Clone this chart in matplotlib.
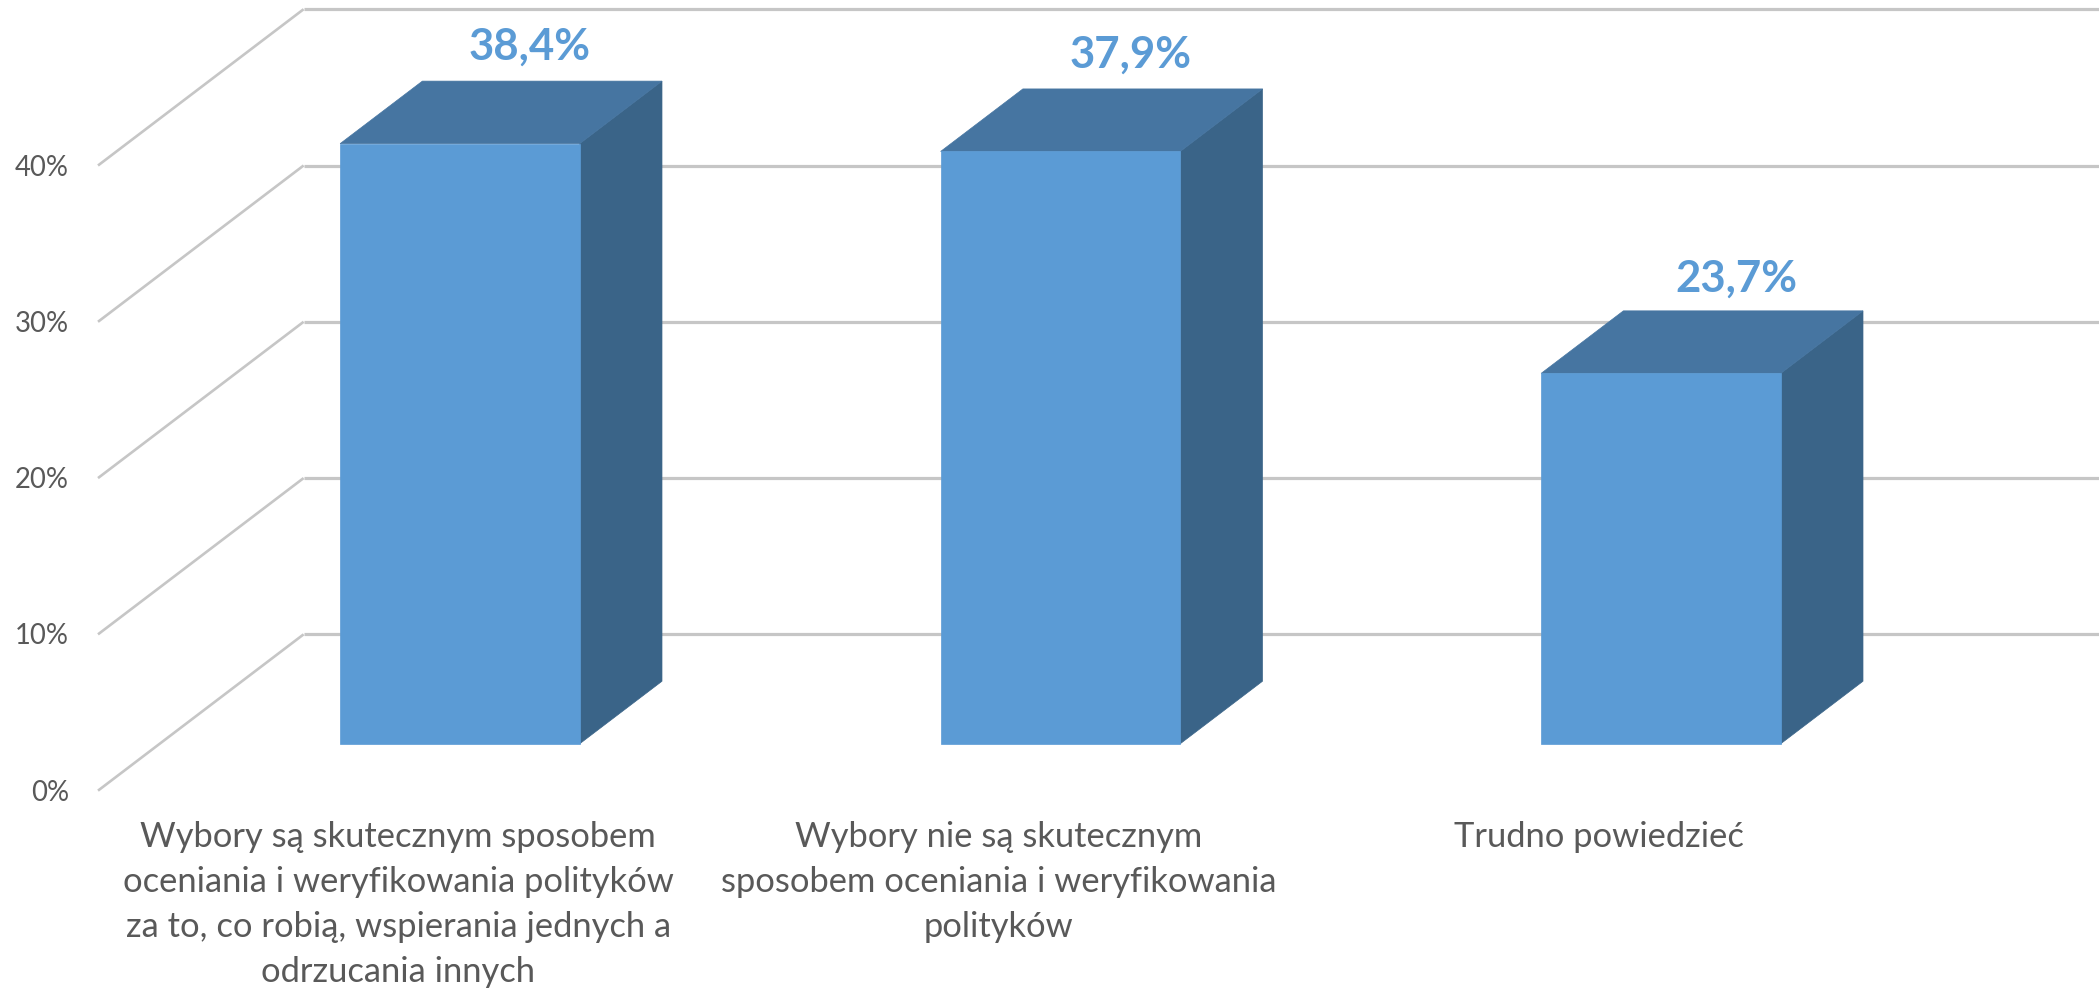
import numpy as np
import matplotlib.pyplot as plt
from matplotlib.patches import Polygon

plt.rcParams['font.family'] = ['Lato', 'DejaVu Sans']

categories = ['Wybory są skutecznym sposobem\noceniania i weryfikowania polityków\nza to, co robią, wspierania jednych a\nodrzucania innych',
              'Wybory nie są skutecznym\nsposobem oceniania i weryfikowania\npolityków',
              'Trudno powiedzieć']
values = [38.4, 37.9, 23.7]
value_labels = ['38,4%', '37,9%', '23,7%']
y_ticks = [0, 10, 20, 30, 40]
y_tick_labels = ['0%', '10%', '20%', '30%', '40%']

colors = {'front': '#5B9BD5', 'top': '#4675A1', 'side': '#3A6488', 'grid': '#C6C6C6', 'text': '#595959'}

# oblique "3d" look: depth 0 is the front plane, depth 1 the back wall
depth_dx = 0.3424   # category units
depth_dy = 10.0     # percent units
bar_width = 0.399
bar_d0, bar_d1 = 0.3, 0.7


def proj(x, y, d):
    return (x + d * depth_dx, y + d * depth_dy)


fig = plt.figure(figsize=(20.99, 9.91), dpi=100)
ax = fig.add_axes([0, 0, 1, 1])
ax.set_xlim(-0.6632, 2.8322)
ax.set_ylim(-12.82, 50.59)
ax.axis('off')

x_left = -0.5
for t, lab in zip(y_ticks, y_tick_labels):
    ax.plot(*zip(proj(x_left, t, 0), proj(x_left, t, 1)), color=colors['grid'], lw=1.9, zorder=1,
            solid_capstyle='butt')
    ax.plot(*zip(proj(x_left, t, 1), proj(3.0, t, 1)), color=colors['grid'], lw=2.3, zorder=1,
            solid_capstyle='butt')
    ax.annotate(lab, xy=(x_left, t), xytext=(-21, -1.5), textcoords='offset points',
                ha='right', va='center', fontsize=19.8, color=colors['text'])

for i, (v, vlab) in enumerate(zip(values, value_labels)):
    l, r = i - bar_width / 2, i + bar_width / 2
    front = [proj(l, 0, bar_d0), proj(r, 0, bar_d0), proj(r, v, bar_d0), proj(l, v, bar_d0)]
    top = [proj(l, v, bar_d0), proj(r, v, bar_d0), proj(r, v, bar_d1), proj(l, v, bar_d1)]
    side = [proj(r, 0, bar_d0), proj(r, 0, bar_d1), proj(r, v, bar_d1), proj(r, v, bar_d0)]
    ax.add_patch(Polygon(side, closed=True, fc=colors['side'], ec=colors['side'], lw=0.5, zorder=3))
    ax.add_patch(Polygon(top, closed=True, fc=colors['top'], ec=colors['top'], lw=0.5, zorder=3))
    ax.add_patch(Polygon(front, closed=True, fc=colors['front'], ec=colors['front'], lw=0.5, zorder=4))
    # last label sits a touch lower and further right in the original
    offset = (-5, 23) if i == 2 else (-9, 25)
    ax.annotate(vlab, xy=proj(i, v, bar_d1), xytext=offset, textcoords='offset points',
                ha='center', va='center', fontsize=31.5, fontweight='bold', color=colors['front'])
    ax.annotate(categories[i], xy=(i, 0), xytext=(0, -22), textcoords='offset points',
                ha='center', va='top', fontsize=24.8, color=colors['text'], linespacing=1.5)

fig.savefig('out.png', dpi=100, facecolor='white')
